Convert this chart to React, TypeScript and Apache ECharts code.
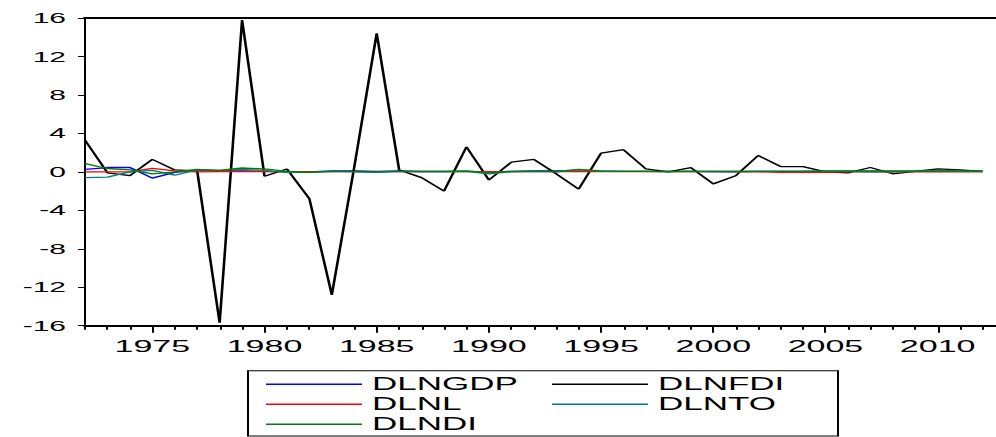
import React, { useEffect, useRef } from "react";
import * as echarts from "echarts";

const years: number[] = [];
for (let y = 1972; y <= 2012; y++) years.push(y);

const majorYears = [1975, 1980, 1985, 1990, 1995, 2000, 2005, 2010];
const yTicks = [-16, -12, -8, -4, 0, 4, 8, 12, 16];

const dlngdp = [
  0.25, 0.45, 0.45, -0.65, -0.05, 0.15, 0.1, 0.1, 0.05, 0.0,
  0.0, 0.1, 0.1, 0.05, 0.1, 0.05, 0.05, 0.05, 0.0, 0.05,
  0.1, 0.1, 0.05, 0.05, 0.05, 0.05, 0.05, 0.05, 0.05, 0.05,
  0.05, 0.05, 0.05, 0.05, 0.05, 0.05, 0.05, 0.05, 0.05, 0.05, 0.05,
];
const dlnfdi = [
  3.3, -0.1, -0.4, 1.3, 0.2, 0.1, -15.7, 15.8, -0.45, 0.3,
  -2.8, -12.8, 0.5, 14.4, 0.2, -0.6, -2.0, 2.6, -0.85, 1.0,
  1.3, -0.2, -1.8, 1.95, 2.3, 0.3, 0.0, 0.45, -1.25, -0.4,
  1.7, 0.55, 0.55, 0.0, -0.1, 0.45, -0.2, 0.05, 0.3, 0.2, 0.05,
];
const dlnl = [
  0.0, 0.0, 0.0, 0.35, 0.1, 0.0, 0.02, 0.02, 0.02, 0.02,
  0.02, 0.02, 0.02, 0.02, 0.02, 0.02, 0.02, 0.02, 0.02, 0.02,
  0.02, 0.02, 0.02, 0.02, 0.02, 0.02, 0.02, 0.02, 0.02, 0.0,
  0.0, -0.05, -0.05, -0.05, 0.0, 0.0, 0.0, 0.0, 0.0, 0.0, 0.0,
];
const dlnto = [
  -0.6, -0.55, 0.0, 0.15, -0.35, 0.2, 0.15, 0.25, 0.15, -0.05,
  -0.05, 0.05, 0.0, -0.05, 0.05, 0.0, 0.0, 0.05, -0.2, 0.0,
  0.05, 0.0, 0.2, 0.05, 0.05, 0.05, 0.0, 0.05, 0.0, 0.0,
  0.05, 0.05, 0.05, 0.05, 0.05, 0.0, 0.0, 0.05, 0.1, 0.05, 0.05,
];
const dlndi = [
  0.85, 0.35, 0.2, -0.2, 0.0, 0.25, 0.15, 0.4, 0.3, 0.05,
  -0.05, 0.05, 0.05, 0.0, 0.05, 0.05, 0.05, 0.1, -0.1, 0.05,
  0.05, 0.05, 0.25, 0.1, 0.05, 0.05, 0.05, 0.05, 0.05, 0.05,
  0.05, 0.05, 0.05, 0.1, 0.1, 0.1, 0.1, 0.1, 0.1, 0.1, 0.1,
];

const FONT = "'Liberation Sans', Arial, sans-serif";

export default function App() {
  const ref = useRef<HTMLDivElement>(null);
  useEffect(() => {
    if (!ref.current) return;
    const chart = echarts.init(ref.current, undefined, { renderer: "svg" });
    const mk = (name: string, vals: number[], color: string) => ({
      name,
      type: "line",
      xAxisIndex: 0,
      yAxisIndex: 0,
      symbol: "none",
      data: years.map((y, i) => [y, vals[i]]),
      lineStyle: { color, width: 1.3 },
      itemStyle: { color },
      emphasis: { disabled: true },
    });
    const xCommon = { type: "value", min: 1972, max: 2012.6, interval: 1 };
    const legendCommon = {
      orient: "vertical",
      top: 375.3,
      padding: 0,
      icon: "rect",
      itemWidth: 48,
      itemHeight: 1.6,
      itemGap: 2,
      selectedMode: false,
      textStyle: { fontSize: 17.5, color: "#000", fontFamily: FONT },
    };
    chart.setOption({
      animation: false,
      grid: { left: 42.5, right: 0, top: 18, bottom: 111.3, containLabel: false },
      xAxis: [
        {
          ...xCommon,
          position: "bottom",
          axisLine: { onZero: false, lineStyle: { color: "#000", width: 2 } },
          axisTick: { show: true, length: 4, lineStyle: { color: "#000", width: 1 } },
          axisLabel: { show: false },
          splitLine: { show: false },
        },
        {
          ...xCommon,
          position: "bottom",
          axisLine: { show: false, onZero: false },
          axisTick: {
            show: true,
            length: 7,
            customValues: majorYears,
            lineStyle: { color: "#000", width: 1 },
          },
          axisLabel: {
            show: true,
            customValues: majorYears,
            margin: 12,
            fontSize: 17,
            color: "#000",
            fontFamily: FONT,
            formatter: (v: number) => String(v),
          },
          splitLine: { show: false },
        },
        {
          ...xCommon,
          position: "top",
          axisLine: { show: true, onZero: false, lineStyle: { color: "#000", width: 2 } },
          axisTick: { show: false },
          axisLabel: { show: false },
          splitLine: { show: false },
        },
      ],
      yAxis: {
        type: "value",
        min: yTicks[0],
        max: yTicks[yTicks.length - 1],
        interval: 4,
        axisLine: { show: true, onZero: false, lineStyle: { color: "#000", width: 1 } },
        axisTick: { show: true, length: 3.5, lineStyle: { color: "#000", width: 1 } },
        axisLabel: { margin: 9.5, fontSize: 15, color: "#000", fontFamily: FONT },
        splitLine: { show: false },
      },
      legend: [
        { ...legendCommon, data: ["DLNGDP", "DLNL", "DLNDI"], left: 133 },
        { ...legendCommon, data: ["DLNFDI", "DLNTO"], left: 276 },
      ],
      graphic: [
        {
          type: "rect",
          shape: { x: 124, y: 370.7, width: 295, height: 65.3 },
          style: { fill: "none", stroke: "#000", lineWidth: 1 },
          silent: true,
        },
      ],
      series: [
        mk("DLNGDP", dlngdp, "#0000ff"),
        mk("DLNFDI", dlnfdi, "#000000"),
        mk("DLNL", dlnl, "#ff0000"),
        mk("DLNTO", dlnto, "#008080"),
        mk("DLNDI", dlndi, "#008000"),
      ],
    });
    return () => chart.dispose();
  }, []);
  return (
    <div
      ref={ref}
      style={{
        position: "absolute",
        left: 0,
        top: 0,
        width: 498,
        height: 437,
        transform: "scaleX(2)",
        transformOrigin: "0 0",
        background: "#fff",
      }}
    />
  );
}
